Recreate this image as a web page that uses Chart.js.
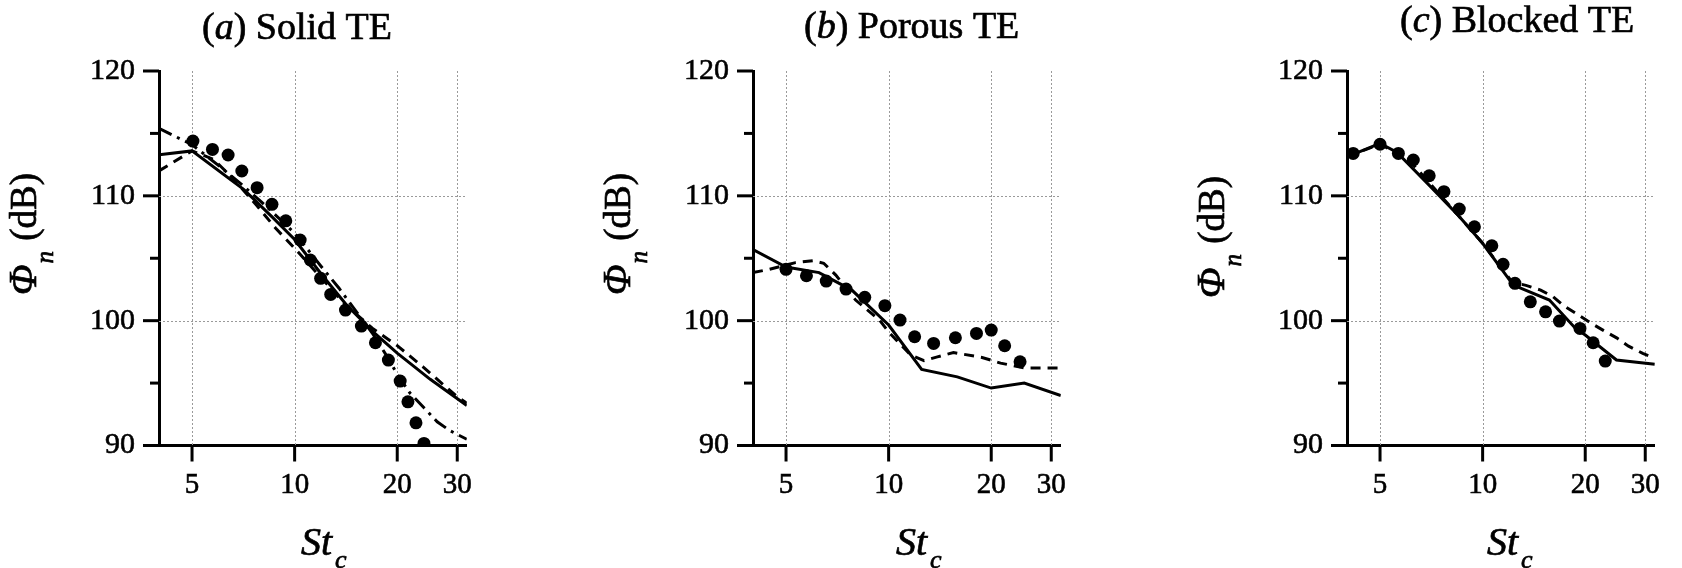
<!DOCTYPE html>
<html><head><meta charset="utf-8">
<script src="https://cdn.jsdelivr.net/npm/chart.js@4.4.1/dist/chart.umd.min.js"></script>
<style>
html,body{margin:0;padding:0;background:#fff;}
body{width:1682px;height:568px;position:relative;overflow:hidden;}
canvas{position:absolute;top:0;}
</style></head><body>
<canvas id="c0" width="494" height="568" style="left:0px"></canvas>
<canvas id="c1" width="494" height="568" style="left:594px"></canvas>
<canvas id="c2" width="494" height="568" style="left:1188px"></canvas>
<script>
// ---------- tick labels ----------
const xTicks = [5, 10, 20, 30];
const yTicks = [90, 100, 110, 120];
const yMinorTicks = [95, 105, 115];
const xGrid = [5, 10, 20, 30];
const yGrid = [100, 110];

// ---------- panel titles ----------
const panelLetters = ['a', 'b', 'c'];
const panelNames = ['Solid TE', 'Porous TE', 'Blocked TE'];

// ---------- (a) Solid TE ----------
const aSolidX = [4, 5, 7.1, 8.6, 10, 12, 14.2, 17, 20, 25, 32];
const aSolidY = [113.3, 113.6, 110.5, 108.3, 106.5, 103.7, 101.25, 99.1, 97.4, 95.3, 93.2];
const aDashX = [4, 5, 5.8, 6.7, 7.7, 8.8, 10, 12, 14.2, 16.9, 20, 23.8, 30, 32];
const aDashY = [112.0, 113.6, 112.9, 111.2, 109.3, 107.4, 105.8, 103.4, 101.2, 99.4, 98.0, 96.3, 93.9, 93.4];
const aDashDotX = [4, 5, 6, 7, 8, 9, 10, 11, 12, 13.5, 15, 17, 18.8, 20, 21.8, 24, 26.2, 28.5, 32];
const aDashDotY = [115.4, 114.1, 112.4, 110.9, 109.5, 108.2, 107.0, 105.6, 104.3, 102.6, 100.9, 98.9, 97.0, 95.7, 94.2, 93.0, 91.9, 91.2, 90.5];
const aDotX = [5.03, 5.74, 6.38, 7.0, 7.76, 8.58, 9.42, 10.38, 11.12, 11.92, 12.76, 14.1, 15.7, 17.26, 18.84, 20.4, 21.5, 22.7, 23.96];
const aDotY = [114.39, 113.72, 113.27, 111.99, 110.65, 109.32, 108.0, 106.46, 104.86, 103.39, 102.1, 100.85, 99.57, 98.23, 96.84, 95.16, 93.5, 91.82, 90.17];

// ---------- (b) Porous TE ----------
const bSolidX = [4, 5, 6.25, 7.8, 10, 12.5, 15.9, 20, 25, 32];
const bSolidY = [105.7, 104.3, 103.85, 102.45, 99.65, 96.1, 95.5, 94.6, 95.0, 94.0];
const bDashX = [4, 4.44, 5.33, 6.0, 6.45, 7.0, 8.0, 9.4, 10, 11.6, 12.7, 13.9, 15.5, 18.8, 21.3, 25.2, 32];
const bDashY = [103.85, 104.1, 104.65, 104.8, 104.6, 103.65, 101.65, 100.05, 99.1, 97.25, 96.8, 97.1, 97.45, 97.05, 96.6, 96.2, 96.2];
const bDotX = [5.0, 5.74, 6.56, 7.5, 8.51, 9.75, 10.8, 11.92, 13.55, 15.7, 18.1, 20.0, 21.9, 24.3];
const bDotY = [104.11, 103.6, 103.17, 102.53, 101.87, 101.2, 100.05, 98.71, 98.18, 98.63, 98.98, 99.25, 97.99, 96.71];

// ---------- (c) Blocked TE ----------
const cSolidX = [4, 5, 5.6, 7, 8.5, 10, 12.3, 15.7, 18.7, 20, 24.7, 32];
const cSolidY = [113.13, 114.2, 113.5, 110.8, 108.4, 106.2, 102.85, 101.65, 99.4, 98.85, 96.85, 96.5];
const cDashX = [4, 5, 5.6, 6.3, 7, 8.5, 10, 12.2, 13.4, 14.8, 16.1, 17.3, 19.1, 20.8, 22.6, 24.8, 26.8, 29.5, 32];
const cDashY = [113.13, 114.15, 113.4, 112.4, 111.0, 108.4, 106.2, 103.1, 102.83, 102.45, 101.92, 101.2, 100.45, 99.8, 99.22, 98.6, 97.96, 97.38, 97.0];
const cDotX = [4.17, 5.0, 5.66, 6.26, 6.97, 7.7, 8.54, 9.46, 10.64, 11.48, 12.44, 13.8, 15.3, 16.8, 19.3, 21.1, 22.9];
const cDotY = [113.4, 114.13, 113.4, 112.87, 111.61, 110.33, 108.94, 107.52, 106.0, 104.51, 102.99, 101.51, 100.71, 99.97, 99.38, 98.23, 96.76];

// ---------- build ----------
const FONT = '"Liberation Serif", "Times New Roman", Times, serif';
function pts(xs, ys) { return xs.map((x, i) => ({x: x, y: ys[i]})); }

const panels = [
  {solid: [aSolidX, aSolidY], dash: [aDashX, aDashY], dashDot: [aDashDotX, aDashDotY], dots: [aDotX, aDotY]},
  {solid: [bSolidX, bSolidY], dash: [bDashX, bDashY], dots: [bDotX, bDotY]},
  {solid: [cSolidX, cSolidY], dash: [cDashX, cDashY], dots: [cDotX, cDotY]}
];
const textLayout = [
  {titleDx: 43, titleBase: 38.5, yTitleBottom: 295, xTitleDx: 142},
  {titleDx: 51, titleBase: 37.5, yTitleBottom: 295, xTitleDx: 143},
  {titleDx: 53, titleBase: 32, yTitleBottom: 298, xTitleDx: 140}
];

function runs(ctx, segs, x, y) {
  let cx = x;
  ctx.strokeStyle = '#000';
  ctx.lineWidth = 0.7;
  ctx.setLineDash([]);
  for (const s of segs) {
    ctx.font = s.f;
    ctx.fillText(s.t, cx + (s.dx || 0), y + (s.dy || 0));
    ctx.strokeText(s.t, cx + (s.dx || 0), y + (s.dy || 0));
    cx += ctx.measureText(s.t).width + (s.dx || 0);
  }
}

const decorPlugin = {
  id: 'decor',
  beforeDatasetsDraw(chart) {
    const ctx = chart.ctx, ca = chart.chartArea;
    const xs = chart.scales.x, ys = chart.scales.y;
    ctx.save();
    ctx.strokeStyle = '#9a9a9a';
    ctx.lineWidth = 1;
    ctx.setLineDash([2, 2]);
    for (const v of xGrid) {
      const px = Math.round(xs.getPixelForValue(v)) + 0.5;
      ctx.beginPath(); ctx.moveTo(px, ca.top); ctx.lineTo(px, ca.bottom); ctx.stroke();
    }
    for (const v of yGrid) {
      const py = Math.round(ys.getPixelForValue(v)) + 0.5;
      ctx.beginPath(); ctx.moveTo(ca.left, py); ctx.lineTo(ca.right, py); ctx.stroke();
    }
    ctx.restore();
  },
  afterDraw(chart, args, opts) {
    const ctx = chart.ctx, ca = chart.chartArea;
    const xs = chart.scales.x, ys = chart.scales.y;
    const L = textLayout[opts.idx];
    ctx.save();
    ctx.strokeStyle = '#000';
    ctx.lineWidth = 3;
    ctx.setLineDash([]);
    for (const v of yTicks) {
      const py = ys.getPixelForValue(v);
      ctx.beginPath(); ctx.moveTo(ca.left - 16, py); ctx.lineTo(ca.left, py); ctx.stroke();
    }
    for (const v of yMinorTicks) {
      const py = ys.getPixelForValue(v);
      ctx.beginPath(); ctx.moveTo(ca.left - 9, py); ctx.lineTo(ca.left, py); ctx.stroke();
    }
    for (const v of xTicks) {
      const px = xs.getPixelForValue(v);
      ctx.beginPath(); ctx.moveTo(px, ca.bottom); ctx.lineTo(px, ca.bottom + 16); ctx.stroke();
    }
    // texts
    ctx.fillStyle = '#000';
    ctx.textAlign = 'left';
    ctx.textBaseline = 'alphabetic';
    runs(ctx, [
      {t: '(', f: '38px ' + FONT},
      {t: panelLetters[opts.idx], f: 'italic 38px ' + FONT},
      {t: ') ' + panelNames[opts.idx], f: '38px ' + FONT}
    ], ca.left + L.titleDx, L.titleBase);
    // y title
    ctx.save();
    ctx.translate(ca.left - 123, L.yTitleBottom);
    ctx.rotate(-Math.PI / 2);
    runs(ctx, [
      {t: 'Φ', f: 'italic 40px ' + FONT},
      {t: 'n', f: 'italic 25px ' + FONT, dy: 17, dx: 1},
      {t: ' (dB)', f: '37px ' + FONT, dx: 1}
    ], 0, 0);
    ctx.restore();
    // x title
    runs(ctx, [
      {t: 'St', f: 'italic 40px ' + FONT},
      {t: 'c', f: 'italic 26px ' + FONT, dy: 13, dx: 3}
    ], ca.left + L.xTitleDx, 555);
    ctx.restore();
  }
};

function makeDatasets(p) {
  const ds = [];
  ds.push({label: 'solid', data: pts(p.solid[0], p.solid[1]), showLine: true, borderColor: '#000', borderWidth: 3, pointRadius: 0, borderDash: [], tension: 0});
  ds.push({label: 'dashed', data: pts(p.dash[0], p.dash[1]), showLine: true, borderColor: '#000', borderWidth: 3, pointRadius: 0, borderDash: [10, 7], tension: 0});
  if (p.dashDot) {
    ds.push({label: 'dash-dot', data: pts(p.dashDot[0], p.dashDot[1]), showLine: true, borderColor: '#000', borderWidth: 3, pointRadius: 0, borderDash: [14, 6, 3, 6], tension: 0});
  }
  ds.push({label: 'measured', data: pts(p.dots[0], p.dots[1]), showLine: false, pointRadius: 6.5, pointBackgroundColor: '#000', pointBorderColor: '#000', pointBorderWidth: 0});
  return ds;
}

panels.forEach((p, i) => {
  new Chart(document.getElementById('c' + i), {
    type: 'scatter',
    data: {datasets: makeDatasets(p)},
    plugins: [decorPlugin],
    options: {
      responsive: false,
      animation: false,
      devicePixelRatio: 1,
      layout: {padding: {top: 71, right: 8, bottom: 0, left: 0}},
      plugins: {legend: {display: false}, tooltip: {enabled: false}, title: {display: false}, decor: {idx: i}},
      scales: {
        x: {
          type: 'logarithmic', min: 4, max: 32,
          afterBuildTicks: s => { s.ticks = xTicks.map(v => ({value: v})); },
          afterFit: s => { s.height = 122.5; },
          ticks: {color: '#000', font: {family: FONT, size: 29}, padding: 22, autoSkip: false, maxRotation: 0, minRotation: 0, textStrokeColor: '#000', textStrokeWidth: 0.6, callback: v => String(v)},
          grid: {display: false, drawTicks: false},
          border: {display: true, color: '#000', width: 3}
        },
        y: {
          type: 'linear', min: 90, max: 120,
          afterBuildTicks: s => { s.ticks = yTicks.map(v => ({value: v})); },
          afterFit: s => { s.width = 159; },
          ticks: {color: '#000', font: {family: FONT, size: 30}, padding: 24, autoSkip: false, textStrokeColor: '#000', textStrokeWidth: 0.6, callback: v => String(v)},
          grid: {display: false, drawTicks: false},
          border: {display: true, color: '#000', width: 3}
        }
      }
    }
  });
});
</script>
</body></html>
